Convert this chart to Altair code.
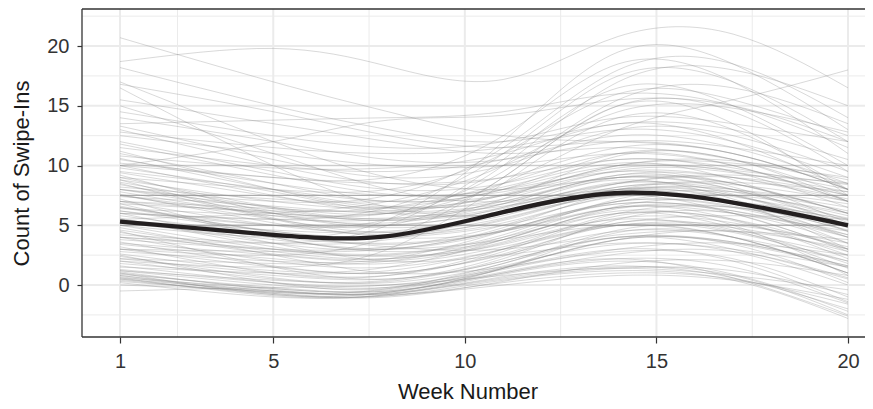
import altair as alt
import pandas as pd

WEEKS = [1, 5, 8, 11, 14, 17, 20]

MEAN = [5.3, 4.2, 4.1, 6.1, 7.7, 6.9, 5.0]

LOW = [
    [0.3, -0.6, -0.7, 0.6, 1.5, 0.8, -2.5],
    [0.5, -0.8, -0.9, 0.4, 1.2, 0.4, -2.8],
    [0.8, -0.5, -0.6, 1.0, 2.2, 1.5, -1.5],
    [1.0, -0.3, -0.4, 1.3, 2.8, 2.2, -1.0],
    [0.6, -0.9, -0.8, 0.7, 1.6, 0.6, -2.0],
    [1.2, 0.0, -0.2, 1.6, 3.4, 2.8, 0.0],
    [0.4, -0.7, -0.9, 0.2, 1.0, 0.5, -1.6],
    [0.9, -0.2, -0.5, 1.0, 2.6, 2.8, 0.6],
    [1.1, -0.4, -0.6, 1.4, 3.8, 3.4, 0.2],
    [0.2, -1.0, -0.8, 0.5, 1.4, 1.2, -0.8],
    [0.7, -0.6, -0.3, 1.8, 4.0, 3.6, 1.6],
    [0.5, -0.5, -0.7, 0.9, 2.0, 0.9, -2.2],
    [-0.5, -0.2, 0.0, 0.8, 1.4, 0.8, -0.4],
    [0.0, -0.5, -0.8, 0.0, 0.8, 0.4, -1.2],
    [1.3, 0.2, 0.0, 1.4, 3.0, 2.0, -1.4],
    [0.8, -0.7, -1.0, 0.3, 1.8, 2.0, 0.8],
    [0.6, -0.3, -0.5, 1.1, 2.2, 0.6, -2.6],
    [1.0, -0.8, -0.6, 1.4, 4.4, 4.0, 1.0],
]

LOWMID = [
    [2.0, 0.5, 0.3, 2.0, 4.0, 3.5, 1.5],
    [3.0, 1.5, 1.0, 2.5, 4.5, 4.0, 2.0],
    [2.5, 0.2, -0.3, 1.5, 3.8, 4.5, 3.0],
    [4.0, 2.0, 1.5, 3.0, 5.0, 5.0, 3.5],
    [3.5, 2.5, 2.0, 3.5, 5.5, 4.5, 2.5],
    [5.0, 3.0, 2.5, 4.0, 6.0, 5.5, 3.0],
    [1.5, 1.0, 1.2, 3.0, 5.0, 4.0, 1.0],
    [4.5, 1.5, 0.5, 2.0, 4.0, 3.0, 0.5],
    [2.8, 2.0, 2.2, 4.5, 7.0, 6.5, 4.0],
    [6.0, 3.5, 2.0, 2.5, 3.5, 3.0, 1.5],
    [3.2, 1.0, 0.8, 3.0, 6.0, 6.5, 5.0],
    [5.5, 4.0, 3.5, 4.5, 6.5, 6.0, 4.5],
    [2.2, 1.8, 2.0, 4.0, 6.5, 5.5, 2.5],
    [4.8, 2.5, 1.0, 1.5, 3.0, 3.5, 2.5],
    [3.8, 3.0, 3.2, 5.0, 7.5, 7.0, 4.5],
    [1.8, 0.8, 0.5, 2.2, 5.5, 6.0, 3.5],
    [5.2, 3.8, 3.0, 3.8, 5.0, 4.0, 1.0],
    [4.2, 3.5, 3.8, 6.0, 8.0, 7.0, 3.0],
    [2.6, 1.2, 1.5, 3.8, 6.2, 5.0, 0.8],
    [6.2, 4.5, 4.0, 5.0, 6.8, 6.2, 4.0],
    [3.4, 2.2, 1.8, 3.2, 5.2, 5.8, 5.5],
    [4.6, 2.8, 2.2, 3.6, 6.0, 4.8, 1.8],
    [5.8, 4.2, 3.2, 3.0, 4.2, 4.5, 3.8],
]

MORE = [
    [3.6, 1.6, 1.0, 2.6, 5.0, 4.4, 2.0],
    [5.6, 3.2, 2.4, 3.4, 5.6, 5.2, 3.2],
    [7.6, 5.2, 4.2, 5.2, 7.4, 6.8, 4.6],
    [2.4, 0.6, 0.2, 1.8, 4.6, 4.8, 2.8],
    [6.6, 4.4, 3.4, 4.6, 7.0, 6.6, 4.2],
    [8.4, 6.2, 5.4, 6.4, 8.6, 7.6, 4.8],
    [4.4, 2.6, 2.2, 3.8, 6.4, 6.2, 4.2],
    [9.4, 7.4, 6.4, 7.2, 9.6, 9.4, 7.8],
    [1.6, 0.2, -0.2, 1.4, 3.8, 3.6, 1.6],
    [5.4, 4.6, 4.4, 5.6, 7.8, 7.4, 5.6],
    [3.0, 2.8, 3.0, 4.6, 6.8, 6.0, 2.8],
    [6.8, 4.0, 2.8, 3.8, 6.6, 7.0, 5.4],
    [10.6, 8.0, 6.6, 7.0, 9.2, 9.0, 7.2],
    [4.0, 3.0, 2.6, 4.2, 7.2, 7.8, 6.2],
    [7.0, 6.4, 6.2, 7.6, 10.0, 10.4, 8.8],
    [2.2, 1.0, 0.8, 2.8, 5.8, 5.4, 2.2],
    [8.8, 5.6, 4.4, 5.4, 8.0, 8.4, 7.0],
    [1.2, 0.4, 0.4, 2.4, 5.2, 4.6, 1.4],
    [6.4, 5.8, 5.6, 6.8, 9.2, 8.2, 5.0],
    [11.8, 9.2, 7.6, 7.8, 9.8, 9.6, 8.4],
]

MID = [
    [7.0, 5.0, 4.5, 6.0, 8.0, 7.5, 5.0],
    [8.0, 6.0, 5.0, 6.5, 9.0, 8.5, 6.0],
    [6.5, 4.5, 4.0, 5.5, 7.5, 6.0, 3.0],
    [9.0, 6.5, 5.5, 6.5, 8.5, 8.0, 6.5],
    [7.5, 6.0, 6.0, 7.5, 9.5, 9.0, 7.0],
    [10.0, 7.5, 6.0, 6.0, 7.5, 7.0, 5.5],
    [8.5, 5.5, 4.0, 4.5, 6.5, 6.5, 5.0],
    [6.0, 5.5, 5.5, 7.0, 9.0, 8.0, 5.0],
    [9.5, 8.0, 7.0, 7.5, 9.0, 8.0, 5.5],
    [7.2, 4.0, 3.0, 4.5, 7.0, 7.5, 6.0],
    [8.8, 7.0, 6.5, 8.0, 10.0, 9.5, 7.5],
    [10.5, 8.5, 7.5, 8.0, 9.5, 8.5, 6.0],
    [6.8, 6.2, 6.5, 8.5, 11.0, 10.0, 7.0],
    [9.2, 6.0, 4.8, 5.8, 8.2, 7.8, 5.8],
    [7.8, 5.8, 5.2, 6.8, 8.8, 7.2, 4.0],
    [5.5, 3.5, 3.0, 4.8, 7.8, 8.0, 6.8],
    [10.2, 9.0, 8.5, 9.0, 10.5, 9.8, 8.0],
    [8.2, 7.2, 7.0, 8.2, 10.2, 8.8, 5.2],
    [6.2, 5.0, 5.0, 6.2, 8.5, 9.2, 8.5],
    [9.8, 7.8, 6.2, 6.8, 8.0, 6.8, 3.5],
    [7.4, 6.6, 6.0, 6.6, 8.2, 8.6, 7.8],
    [8.6, 6.4, 5.4, 7.2, 10.8, 10.5, 7.0],
]

UPPER = [
    [11.0, 8.5, 7.0, 8.0, 11.0, 10.5, 7.5],
    [12.0, 9.5, 8.0, 8.5, 10.5, 9.5, 6.5],
    [13.0, 10.0, 8.5, 9.0, 11.5, 11.0, 8.0],
    [11.5, 10.0, 9.5, 10.5, 12.5, 11.5, 8.5],
    [12.5, 11.0, 10.0, 10.0, 11.0, 10.0, 7.0],
    [13.3, 10.5, 9.0, 10.0, 13.0, 12.5, 9.5],
    [10.8, 9.8, 9.8, 11.0, 13.5, 12.0, 8.0],
    [14.0, 12.0, 10.5, 10.5, 12.0, 11.5, 10.0],
    [11.2, 8.0, 6.5, 7.5, 10.0, 10.2, 9.0],
    [12.8, 11.5, 11.0, 11.5, 13.0, 12.0, 9.0],
]

HIGH = [
    [20.7, 17.0, 14.5, 12.5, 12.0, 11.0, 8.0],
    [18.7, 19.8, 18.3, 17.2, 20.8, 21.0, 16.5],
    [17.0, 12.0, 9.0, 8.0, 9.0, 8.5, 6.0],
    [16.8, 14.5, 12.5, 11.5, 12.0, 11.0, 8.0],
    [18.2, 15.0, 13.0, 12.0, 13.5, 13.0, 10.5],
    [15.5, 13.5, 12.0, 11.0, 11.5, 10.5, 8.5],
    [15.0, 11.0, 8.0, 7.0, 8.5, 9.0, 7.5],
    [13.5, 13.8, 14.0, 14.5, 16.0, 15.0, 11.5],
    [16.5, 10.0, 6.5, 6.0, 8.0, 7.5, 4.5],
    [14.5, 12.5, 11.5, 12.0, 14.0, 13.5, 12.0],
    [10.0, 12.0, 13.8, 14.2, 15.5, 15.0, 12.0],
]

RISING = [
    [6.0, 5.5, 6.5, 11.0, 17.5, 17.0, 12.0],
    [4.0, 3.5, 5.0, 10.5, 16.5, 15.0, 10.0],
    [8.0, 7.0, 7.5, 11.5, 18.0, 18.5, 14.0],
    [5.0, 4.0, 5.5, 12.0, 19.5, 18.5, 13.0],
    [7.0, 6.0, 6.0, 9.5, 15.5, 16.5, 13.5],
    [3.0, 2.5, 4.0, 9.0, 15.0, 14.5, 9.5],
    [9.0, 8.0, 8.0, 11.0, 16.0, 15.5, 12.5],
    [6.5, 5.0, 5.5, 10.0, 17.0, 18.0, 15.0],
    [2.0, 1.5, 3.0, 8.5, 14.0, 13.0, 8.0],
    [10.0, 9.0, 9.0, 12.5, 18.5, 17.0, 11.0],
    [5.5, 6.0, 7.0, 10.0, 14.5, 14.8, 12.8],
    [7.5, 5.5, 5.0, 9.0, 15.0, 13.5, 7.5],
    [8.0, 6.5, 6.0, 8.5, 13.0, 15.5, 18.0],
]

FLAT = [
    [5.0, 5.0, 5.0, 5.0, 5.0, 5.0, 5.0],
    [5.0, 5.0, 5.0, 5.0, 5.0, 5.0, 5.0],
    [5.0, 5.0, 5.0, 5.0, 5.0, 5.0, 5.0],
    [7.5, 7.5, 7.5, 7.5, 7.5, 7.5, 7.5],
    [7.5, 7.5, 7.5, 7.5, 7.5, 7.5, 7.5],
    [7.5, 7.5, 7.5, 7.5, 7.5, 7.5, 7.5],
    [10.0, 10.0, 10.0, 10.0, 10.0, 10.0, 10.0],
]

X_TICKS = [1, 5, 10, 15, 20]
X_MINOR = [2.5, 7.5, 12.5, 17.5]
Y_TICKS = [0, 5, 10, 15, 20]
Y_MINOR = [-2.5, 2.5, 7.5, 12.5, 17.5, 22.5]

# ---- build tables ----
rows = []
cid = 0
for group in (LOW, LOWMID, MORE, MID, UPPER, HIGH, RISING, FLAT):
    for curve in group:
        for w, v in zip(WEEKS, curve):
            rows.append({"id": cid, "week": w, "count": v})
        cid += 1
spag = pd.DataFrame(rows)
mean_df = pd.DataFrame({"week": WEEKS, "count": MEAN})

W, H = 791, 328
FONT = "Liberation Sans, Arial, Helvetica, sans-serif"
EDGE = "#333333"

xscale = alt.Scale(domain=[0.008, 20.652], nice=False, zero=False)
yscale = alt.Scale(domain=[-4.35, 23.1], nice=False, zero=False)

xaxis = alt.Axis(values=X_TICKS, grid=False, domain=False, title="Week Number", tickSize=6,
                 labelPadding=8, titleX=385.5, titleY=61, titleBaseline="alphabetic",
                 titleAlign="center")
yaxis = alt.Axis(values=Y_TICKS, grid=False, domain=False, title="Count of Swipe-Ins", tickSize=5,
                 labelPadding=8, titleX=-54, titleY=H / 2, titleBaseline="alphabetic",
                 titleAlign="center", titleAngle=270)

X = alt.X("week:Q", scale=xscale, axis=xaxis)
Y = alt.Y("count:Q", scale=yscale, axis=yaxis)

gx_minor = alt.Chart(pd.DataFrame({"week": X_MINOR})).mark_rule(
    color="#ebebeb", strokeWidth=1).encode(x=X, y=alt.value(0), y2=alt.value(H))
gx_major = alt.Chart(pd.DataFrame({"week": X_TICKS})).mark_rule(
    color="#ebebeb", strokeWidth=2).encode(x=X, y=alt.value(0), y2=alt.value(H))
gy_minor = alt.Chart(pd.DataFrame({"count": Y_MINOR})).mark_rule(
    color="#ebebeb", strokeWidth=1).encode(y=Y, x=alt.value(0), x2=alt.value(W))
gy_major = alt.Chart(pd.DataFrame({"count": Y_TICKS})).mark_rule(
    color="#ebebeb", strokeWidth=2).encode(y=Y, x=alt.value(0), x2=alt.value(W))

lines = alt.Chart(spag).mark_line(
    interpolate="natural", stroke="#8a8a8a", strokeOpacity=0.5, strokeWidth=0.65,
    clip=True).encode(x=X, y=Y, detail="id:N")

mean_line = alt.Chart(mean_df).mark_line(
    interpolate="natural", stroke="#231f20", strokeWidth=4.3, clip=True
).encode(x=X, y=Y)

border_df = pd.DataFrame({"k": [0]})
top_border = alt.Chart(border_df).mark_rule(color=EDGE, strokeWidth=1.3).encode(
    x=alt.value(0), x2=alt.value(W), y=alt.value(0))
bottom_border = alt.Chart(border_df).mark_rule(color=EDGE, strokeWidth=1.3).encode(
    x=alt.value(0), x2=alt.value(W), y=alt.value(H))
left_border = alt.Chart(border_df).mark_rule(color=EDGE, strokeWidth=1.3).encode(
    x=alt.value(0), y=alt.value(0), y2=alt.value(H))


def build(pad_right):
    return alt.layer(
        gx_minor, gx_major, gy_minor, gy_major, lines, mean_line,
        top_border, bottom_border, left_border,
    ).properties(
        width=W, height=H, autosize="none",
        padding={"left": 74, "top": 1, "right": pad_right, "bottom": 72},
    ).configure_view(stroke="#ffffff", strokeWidth=0, strokeOpacity=0).configure_axis(
        labelFont=FONT, titleFont=FONT, labelFontSize=20, titleFontSize=22,
        labelColor="#333333", titleColor="#1a1a1a", titleFontWeight="normal",
        tickColor=EDGE, tickWidth=1.2,
    )


# the panel runs past the page edge, as in the reference; the page clips it
try:
    chart = build(-8)
    chart.to_dict()
except Exception:
    chart = build(0)

chart.save("out.html", embed_options={"renderer": "svg", "actions": False})
